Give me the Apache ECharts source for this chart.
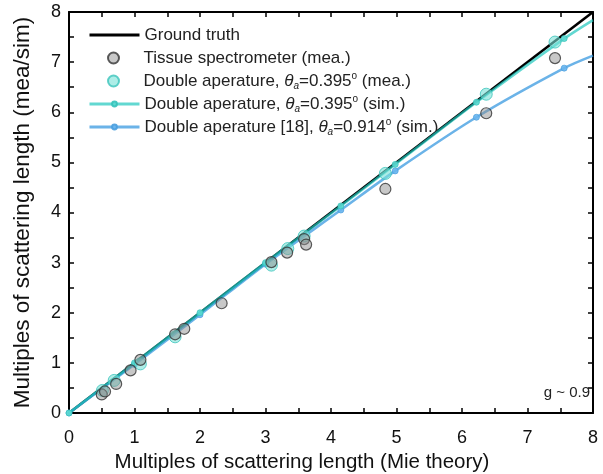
<!DOCTYPE html>
<html>
<head>
<meta charset="utf-8">
<script src="https://cdn.jsdelivr.net/npm/echarts@6/dist/echarts.min.js"></script>
<style>html,body{margin:0;padding:0;background:#fff}#c{width:603px;height:474px}</style>
</head>
<body>
<div id="c"></div>
<script>
// Data
const gtX = [0, 8];
const gtY = [0, 8];
const tsX = [0.50, 0.55, 0.72, 0.94, 1.09, 1.62, 1.76, 2.33, 3.09, 3.33, 3.59, 3.62, 4.83, 6.37, 7.42];
const tsY = [0.37, 0.43, 0.58, 0.85, 1.06, 1.57, 1.68, 2.19, 3.01, 3.20, 3.47, 3.36, 4.47, 5.98, 7.08];
const daMeaX = [0.51, 0.69, 1.09, 1.62, 3.09, 3.34, 3.59, 4.83, 6.37, 7.42];
const daMeaY = [0.45, 0.65, 0.98, 1.52, 2.95, 3.28, 3.53, 4.78, 6.36, 7.40];
const simX = [0, 1, 2, 3, 4.15, 4.98, 6.22, 7.56, 8];
const daSimY = [0, 1.00, 2.00, 3.00, 4.13, 4.96, 6.20, 7.47, 7.84];
const refSimY = [0, 0.97, 1.96, 2.97, 4.05, 4.83, 5.90, 6.88, 7.13];
const xTicks = ['0','1','2','3','4','5','6','7','8'];
const yTicks = ['0','1','2','3','4','5','6','7','8'];

const names = [
  'Ground truth',
  'Tissue spectrometer (mea.)',
  'Double aperature, θa=0.395o (mea.)',
  'Double aperature, θa=0.395o (sim.)',
  'Double aperature [18], θa=0.914o (sim.)'
];
const richNames = {};
richNames[names[0]] = 'Ground truth';
richNames[names[1]] = 'Tissue spectrometer (mea.)';
richNames[names[2]] = 'Double aperature, {i|θ}{sub|a}=0.395{sup|o} (mea.)';
richNames[names[3]] = 'Double aperature, {i|θ}{sub|a}=0.395{sup|o} (sim.)';
richNames[names[4]] = 'Double aperature [18], {i|θ}{sub|a}=0.914{sup|o} (sim.)';

const pair = (xs, ys) => xs.map((x, i) => [x, ys[i]]);
const simData = (ys) => simX.map((x, i) => i === simX.length - 1 ? {value: [x, ys[i]], symbol: 'none'} : [x, ys[i]]);

const FONT = 'Liberation Sans';
const chart = echarts.init(document.getElementById('c'), null, {renderer: 'canvas'});

const baseAxis = (show, pos, ticks) => ({
  type: 'value', min: 0, max: 8, interval: 0.5, position: pos,
  axisLine: {show: true, onZero: false, lineStyle: {color: '#000', width: 2}},
  axisTick: {show: true, inside: true, length: 5, lineStyle: {color: '#000', width: 1.5}},
  splitLine: {show: false},
  axisLabel: {
    show: show, color: '#111', fontFamily: FONT, fontSize: 18,
    formatter: v => Number.isInteger(v) ? ticks[v] : ''
  }
});

const xMain = Object.assign(baseAxis(true, 'bottom', xTicks), {
  name: 'Multiples of scattering length (Mie theory)', nameLocation: 'middle', nameGap: 39,
  nameTextStyle: {color: '#111', fontFamily: FONT, fontSize: 20.5, padding: [0, 58, 0, 0]}
});
xMain.axisLabel.margin = 16;
const yMain = Object.assign(baseAxis(true, 'left', yTicks), {
  name: 'Multiples of scattering length (mea/sim)', nameLocation: 'middle', nameGap: 35,
  nameTextStyle: {color: '#111', fontFamily: FONT, fontSize: 22.5}
});
yMain.axisLabel.margin = 8;

const FS = 17;
const legendText = {
  color: '#222', fontFamily: FONT, fontSize: FS, lineHeight: 20,
  rich: {
    i: {fontStyle: 'italic', fontFamily: FONT, fontSize: FS, lineHeight: 20, color: '#222'},
    sub: {fontStyle: 'italic', fontFamily: FONT, fontSize: 10, lineHeight: 20, color: '#222', verticalAlign: 'bottom', padding: [9, 0, 0, 0]},
    sup: {fontFamily: FONT, fontSize: 10, lineHeight: 20, color: '#222', verticalAlign: 'top', padding: [0, 0, 7, 0]}
  }
};
const mkLegend = (data, top, itemHeight, extra) => Object.assign({
  data: data, orient: 'vertical', left: 88, top: top,
  itemWidth: 50, itemHeight: itemHeight, itemGap: 3, padding: 0,
  formatter: n => richNames[n],
  textStyle: legendText
}, extra || {});

chart.setOption({
  animation: false,
  grid: {left: 69, right: 10, top: 12, bottom: 61, outerBoundsMode: 'none', containLabel: false},
  xAxis: [xMain, baseAxis(false, 'top', xTicks)],
  yAxis: [yMain, baseAxis(false, 'right', yTicks)],
  legend: [
    mkLegend([{name: names[0], itemStyle: {opacity: 0}}], 25, 6, {lineStyle: {width: 3}}),
    mkLegend([{name: names[1], icon: 'circle'}, {name: names[2], icon: 'circle'}], 48, 11, {left: 107}),
    mkLegend([names[3], names[4]], 94, 6, {lineStyle: {width: 3}})
  ],
  graphic: [{
    type: 'text', right: 13, top: 385,
    style: {text: 'g ~ 0.9', fill: '#222', font: '15px "Liberation Sans"'}
  }],
  series: [
    {
      name: names[0], type: 'line', data: pair(gtX, gtY), showSymbol: false, symbol: 'none',
      lineStyle: {color: '#000', width: 2.6}, itemStyle: {color: '#000'}, z: 2
    },
    {
      name: names[4], type: 'line', data: simData(refSimY), smooth: 0.3,
      symbol: 'circle', symbolSize: 6,
      lineStyle: {color: '#3a9ae0', width: 2.6, opacity: 0.75},
      itemStyle: {color: '#6ab6ee', borderColor: '#4a9ede', borderWidth: 0.8, opacity: 0.9}, z: 3
    },
    {
      name: names[3], type: 'line', data: simData(daSimY), smooth: 0.3,
      symbol: 'circle', symbolSize: 6,
      lineStyle: {color: '#20c8be', width: 2.6, opacity: 0.7},
      itemStyle: {color: '#5ad8d0', borderColor: '#36c2ba', borderWidth: 0.8, opacity: 0.9}, z: 4
    },
    {
      name: names[2], type: 'scatter', data: pair(daMeaX, daMeaY), symbol: 'circle', symbolSize: 12,
      itemStyle: {color: 'rgba(120,225,215,0.75)', borderColor: '#3cc4bb', borderWidth: 1}, z: 5
    },
    {
      name: names[1], type: 'scatter', data: pair(tsX, tsY), symbol: 'circle', symbolSize: 11,
      itemStyle: {color: 'rgba(140,140,140,0.6)', borderColor: '#333', borderWidth: 1.2}, z: 6
    }
  ]
});
</script>
</body>
</html>
